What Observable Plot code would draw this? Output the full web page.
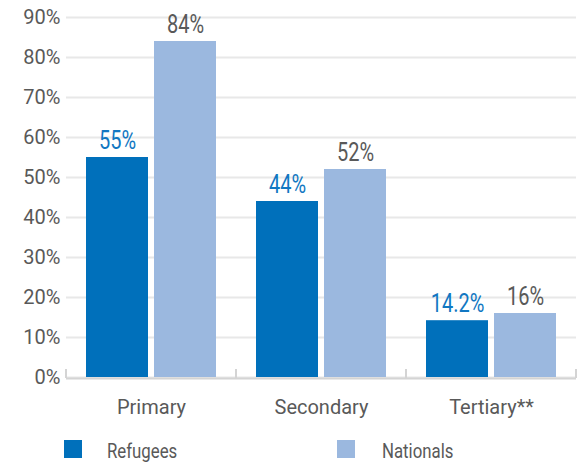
<!DOCTYPE html>
<html>
<head>
<meta charset="utf-8">
<script src="https://cdn.jsdelivr.net/npm/d3@7"></script>
<script src="https://cdn.jsdelivr.net/npm/@observablehq/plot@0.6"></script>
<style>
  body { margin: 0; background: #fff; font-family: Roboto, sans-serif; }
  #wrap { width: 584px; }
  #legend { position: relative; height: 38px; width: 584px; }
  .sw { position: absolute; top: 15px; width: 18px; height: 18px; }
  .lt { position: absolute; top: 16px; font-size: 20px; line-height: 20px; color: #595959; transform: scaleX(0.84); transform-origin: left center; white-space: nowrap; }
</style>
</head>
<body>
<div id="wrap"><div id="chart"></div><div id="legend"></div></div>
<script>
const categories = ["Primary", "Secondary", "Tertiary**"];
const series = ["Refugees", "Nationals"];
const refugees = [55, 44, 14.2];
const nationals = [84, 52, 16];
const yTicks = [0, 10, 20, 30, 40, 50, 60, 70, 80, 90];
const barColors = ["#0070bb", "#9bb8df"];
const labelColors = ["#1177c2", "#595959"];

const data = categories.flatMap((c, i) => [
  {category: c, series: series[0], value: refugees[i]},
  {category: c, series: series[1], value: nationals[i]}
]);

const chart = Plot.plot({
  width: 584,
  height: 425,
  marginLeft: 66,
  marginRight: 8,
  marginTop: 17,
  marginBottom: 48,
  style: {fontFamily: "Roboto", fontSize: "20px", color: "#595959", background: "#fff"},
  fx: {domain: categories, padding: 0, label: null},
  x: {domain: series, paddingInner: 0.088, paddingOuter: 0.294, axis: null},
  y: {domain: [0, 90], label: null},
  color: {domain: series, range: barColors},
  marks: [
    Plot.gridY(yTicks, {stroke: "#e8e8e8", strokeOpacity: 1, strokeWidth: 2}),
    Plot.axisY(yTicks, {tickSize: 0, tickPadding: 6, tickFormat: d => d + "%", fontSize: 20, label: null}),
    Plot.axisFx({anchor: "bottom", tickSize: 0, tickPadding: 22, fontSize: 20, label: null}),
    Plot.ruleY([0], {stroke: "#d4d4d4", strokeWidth: 2, dy: 1}),
    Plot.barY(data, {fx: "category", x: "series", y: "value", fill: "series"}),
    Plot.text(data, {
      fx: "category", x: "series", y: "value",
      text: d => d.value + "%",
      fill: d => labelColors[series.indexOf(d.series)],
      lineAnchor: "bottom", dy: -9, fontSize: 25,
      className: "vlabel"
    })
  ]
});
document.getElementById("chart").append(chart);

// Condense value labels (reference uses a condensed face)
d3.select(chart).selectAll("g.vlabel text").each(function() {
  const w = this.getComputedTextLength();
  this.setAttribute("textLength", (w * 0.8).toFixed(1));
  this.setAttribute("lengthAdjust", "spacingAndGlyphs");
});

// Category boundary ticks on the baseline
const fx = chart.scale("fx");
const ys = chart.scale("y");
const y0 = ys.apply(0);
const bounds = categories.map(c => fx.apply(c)).concat([fx.apply(categories[categories.length - 1]) + fx.bandwidth]);
const svg = d3.select(chart.tagName.toLowerCase() === "svg" ? chart : chart.querySelector("svg"));
svg.append("g").selectAll("line").data(bounds).join("line")
  .attr("x1", d => d).attr("x2", d => d)
  .attr("y1", y0 - 8).attr("y2", y0 + 1)
  .attr("stroke", "#d4d4d4").attr("stroke-width", 2);

// Legend
const legend = d3.select("#legend");
const legendPos = [{sw: 64, tx: 107}, {sw: 337, tx: 382}];
series.forEach((s, i) => {
  legend.append("div").attr("class", "sw").style("left", legendPos[i].sw + "px").style("background", barColors[i]);
  legend.append("div").attr("class", "lt").style("left", legendPos[i].tx + "px").text(s);
});
</script>
</body>
</html>
